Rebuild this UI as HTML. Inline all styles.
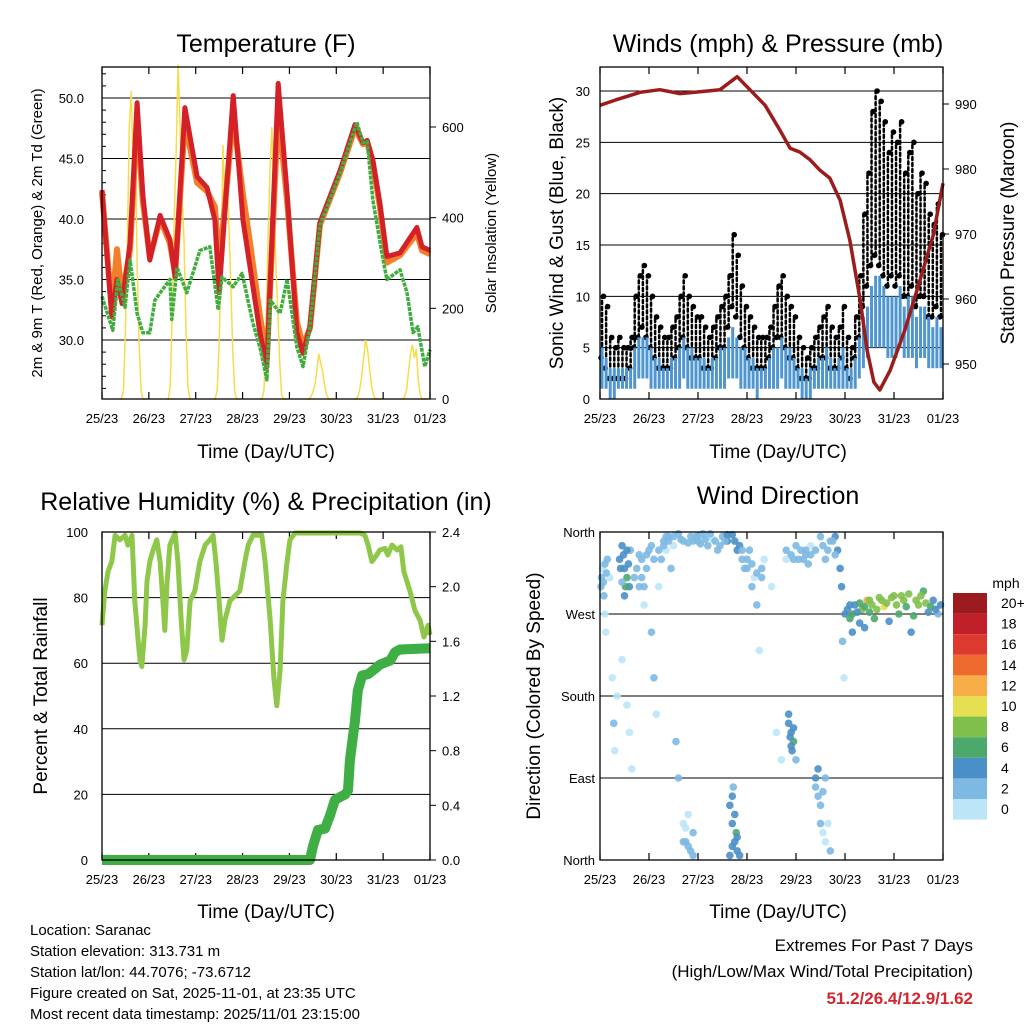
<!DOCTYPE html>
<html><head><meta charset="utf-8"><style>
body{margin:0;background:#fff}
svg{display:block;font-family:"Liberation Sans",Arial,sans-serif}
</style></head><body>
<svg id="c" width="1024" height="1024" viewBox="0 0 1024 1024">
<g id="layer"></g>
<text x="266" y="52" font-size="25" text-anchor="middle">Temperature (F)</text>
<text x="778" y="52" font-size="25" text-anchor="middle">Winds (mph) &amp; Pressure (mb)</text>
<text x="266" y="510" font-size="25" text-anchor="middle">Relative Humidity (%) &amp; Precipitation (in)</text>
<text x="778" y="504" font-size="25" text-anchor="middle">Wind Direction</text>
<text transform="translate(42,233) rotate(-90)" font-size="15" text-anchor="middle">2m &amp; 9m T (Red, Orange) &amp; 2m Td (Green)</text>
<text transform="translate(496,233) rotate(-90)" font-size="15" text-anchor="middle">Solar Insolation (Yellow)</text>
<text transform="translate(563,233) rotate(-90)" font-size="19" text-anchor="middle">Sonic Wind &amp; Gust (Blue, Black)</text>
<text transform="translate(1014,233) rotate(-90)" font-size="19" text-anchor="middle">Station Pressure (Maroon)</text>
<text transform="translate(47,696) rotate(-90)" font-size="19" text-anchor="middle">Percent &amp; Total Rainfall</text>
<text transform="translate(540,696) rotate(-90)" font-size="19" text-anchor="middle">Direction (Colored By Speed)</text>
<text x="266" y="458" font-size="19" text-anchor="middle">Time (Day/UTC)</text>
<text x="778" y="458" font-size="19" text-anchor="middle">Time (Day/UTC)</text>
<text x="266" y="918" font-size="19" text-anchor="middle">Time (Day/UTC)</text>
<text x="778" y="918" font-size="19" text-anchor="middle">Time (Day/UTC)</text>
<g font-size="15">
<text x="30" y="935">Location: Saranac</text>
<text x="30" y="956">Station elevation: 313.731 m</text>
<text x="30" y="977">Station lat/lon: 44.7076; -73.6712</text>
<text x="30" y="998">Figure created on Sat, 2025-11-01, at 23:35 UTC</text>
<text x="30" y="1019">Most recent data timestamp: 2025/11/01 23:15:00</text>
</g>
<g text-anchor="end">
<text x="973" y="951" font-size="17">Extremes For Past 7 Days</text>
<text x="973" y="977" font-size="17">(High/Low/Max Wind/Total Precipitation)</text>
<text x="973" y="1004" font-size="17" font-weight="bold" fill="#d0282e">51.2/26.4/12.9/1.62</text>
</g>
<text x="1006" y="588" font-size="14" text-anchor="middle">mph</text>
</svg>
<script>
const xTickLabels=["25/23","26/23","27/23","28/23","29/23","30/23","31/23","01/23"];
// Temperature (day, degF)
const tRedDays=[0,0.21,0.32,0.43,0.6,0.75,0.87,1.02,1.24,1.45,1.56,1.77,2.03,2.24,2.41,2.5,2.8,3.01,3.16,3.37,3.52,3.76,3.95,4.16,4.29,4.44,4.65,5.08,5.4,5.57,5.66,5.78,5.93,6.08,6.36,6.72,6.83,7.0];
const tRedVals=[42.4,31.9,35,33,38,49.6,42,36.6,40.3,38.3,35.2,49.2,43.5,42.6,39.9,33.9,50.2,39.9,36,30.6,27.8,51.2,42.1,30.6,28.9,31.1,39.7,44,47.8,46.3,46.5,44.9,41.3,36.9,37.2,39.3,37.7,37.4];
const tOrgVals=[42.2,32.5,37.5,33.5,37.5,48.5,41.5,36.8,40,38,35.5,48,43,42.3,41,36,48.5,42,38,32,28.5,49,41.5,31.5,29.5,31,39.5,43.8,47.5,46.2,46.3,44.6,41,36.4,37,38.8,37.4,37.1];
const tdDays=[0,0.23,0.34,0.49,0.6,0.75,0.87,1.02,1.13,1.45,1.49,1.6,1.81,2.09,2.3,2.48,2.56,2.8,2.99,3.22,3.37,3.52,3.59,3.8,3.95,4.16,4.29,4.44,4.65,5.08,5.44,5.57,5.66,5.78,6.0,6.08,6.36,6.51,6.64,6.74,6.89,7.0];
const tdVals=[33.6,30.8,35,32.7,36.6,32.2,30.6,30.6,33.3,35,31.7,36,33.9,37.4,37.7,32.5,35.2,34.4,35.5,31.4,29.4,26.7,33.3,32.2,35,29.4,27.8,31.1,39.5,43.8,48,46.3,46.4,41.6,36.6,35,35.8,33.9,30.6,31.1,27.8,29.2];
// Solar, hourly 11..22 UTC each day
const solarDays=[
[0,20,150,350,600,680,500,650,300,120,20,0],
[0,30,200,400,550,738,600,450,350,150,30,0],
[0,20,120,300,560,420,520,380,250,100,15,0],
[0,20,150,350,500,600,450,300,200,80,10,0],
[0,5,15,30,60,100,80,60,30,10,0,0],
[0,5,20,50,90,130,110,70,30,10,0,0],
[0,5,20,60,100,120,90,110,40,10,0,0]];
// Winds per 2h
const gustHi=[10,9,6,5,6,5,5,6,10,12,13,12, 10,8,7,6,6,7,8,10,12,10,9,8, 8,7,6,7,8,9,10,12,16,14,11,9, 8,7,6,6,6,7,9,11,12,10,9,8, 6,5,4,5,6,7,8,9,7,6,7,9, 6,5,8,12,18,22,28,30,29,27,24,26, 25,27,22,24,25,20,22,21,18,17,19,16];
const gustLo=[4,3,2,2,2,2,2,3,5,6,7,6, 5,4,3,3,3,3,4,5,6,5,4,4, 4,3,3,3,4,5,5,7,9,8,6,5, 4,3,3,3,3,4,5,6,6,5,4,4, 3,2,2,2,3,3,4,4,3,3,3,4, 3,2,4,6,9,11,13,14,13,12,11,12, 11,12,10,10,11,9,10,10,8,8,9,8];
const speedHi=[5,4,3,3,3,3,3,3,5,6,6,6, 5,4,4,3,3,4,4,5,6,5,5,4, 4,4,3,4,4,5,5,6,7,6,5,5, 4,4,3,3,3,4,5,5,6,5,5,4, 3,3,2,3,3,4,4,5,4,3,4,5, 3,3,4,6,8,9,11,12,12,11,10,10, 10,11,9,10,10,8,9,9,8,7,8,7];
const speedLo=[1,1,0,0,1,1,1,1,1,2,2,2, 1,1,1,1,1,1,1,1,2,1,1,1, 1,1,1,1,1,1,1,2,2,2,1,1, 1,1,0,1,1,1,1,1,2,1,1,1, 1,0,0,0,1,1,1,1,1,1,1,1, 1,1,1,2,3,4,5,5,5,5,4,4, 4,5,4,4,4,3,4,4,3,3,3,3];
const presDays=[0,0.31,0.82,1.22,1.63,2.04,2.45,2.80,3.06,3.37,3.67,3.88,4.08,4.29,4.49,4.69,4.90,5.10,5.31,5.45,5.59,5.71,5.92,6.22,6.53,6.80];
const presVals=[989.8,990.6,991.8,992.2,991.6,991.9,992.2,994.2,992.2,989.8,986,983.2,982.6,981.4,979.8,978.6,975.2,969,959.8,952.2,947.2,946,949,955.2,962.9,969.8];
// RH & precip
const rhDays=[0,0.06,0.13,0.21,0.28,0.38,0.49,0.55,0.64,0.70,0.77,0.81,0.85,0.92,0.96,1.02,1.09,1.17,1.24,1.30,1.34,1.39,1.45,1.56,1.62,1.69,1.75,1.81,1.88,1.98,2.09,2.20,2.30,2.37,2.43,2.50,2.56,2.62,2.73,2.94,3.05,3.12,3.22,3.41,3.48,3.59,3.67,3.73,3.80,3.86,3.95,4.01,4.12,5.51,5.61,5.68,5.76,5.85,5.93,6.04,6.10,6.19,6.30,6.38,6.44,6.57,6.68,6.79,6.87,6.96,7.0];
const rhVals=[71.6,82,88,91,99,97.6,99,96,99,79,67,61,59,71.6,85,91,94.5,97.6,91,79,70,85,96,99.7,91,73,61,64,79,82,91,96,97.6,99,91,79,67,73,79,82,91,96,99,99,91,73,55,47,58,79,91,97.6,99.7,99.7,99,96,91,92.7,94.5,95,93,96,94.5,95.5,88,82,76,73,68,71.6,68.6];
const prDays=[0,4.44,4.50,4.61,4.76,4.87,4.97,5.08,5.19,5.25,5.29,5.40,5.46,5.55,5.68,5.83,5.93,6.15,6.25,6.36,7.0];
const prVals=[0,0,0.1,0.22,0.23,0.33,0.44,0.46,0.48,0.51,0.73,1.02,1.24,1.35,1.36,1.40,1.43,1.46,1.52,1.54,1.55];
// Wind direction [day, deg, mph]
const dirPts=[[0.02,300,2],[0.05,320,1],[0.08,290,3],[0.1,270,1],[0.12,250,0],[0.15,330,2],[0.2,310,1],[0.25,200,0],[0.28,150,2],[0.3,120,0],[0.35,180,1],[0.4,330,4],[0.45,345,4],[0.5,320,5],[0.55,310,6],[0.6,300,4],[0.62,340,3],[0.5,290,4],[0.45,220,1],[0.55,170,0],[0.6,140,1],[0.65,100,0],[0.7,310,2],[0.8,300,3],[0.85,330,2],[0.9,280,1],[0.95,320,3],[1.0,340,3],[1.05,250,3],[1.1,200,2],[1.15,160,1],[1.2,300,1],[1.25,330,2],[1.3,350,2],[1.35,340,1],[1.4,355,3],[1.45,320,2],[1.5,345,1],[1.55,130,2],[1.6,90,2],[1.7,40,1],[1.75,20,2],[1.8,50,1],[1.85,10,2],[1.9,30,3],[1.95,355,2],[2.0,350,2],[2.1,358,2],[2.2,345,2],[2.3,352,1],[2.4,340,2],[2.5,355,3],[2.6,350,4],[2.7,357,5],[2.65,60,4],[2.7,40,4],[2.75,20,5],[2.8,10,4],[2.72,80,3],[2.78,30,6],[2.85,345,4],[2.9,330,3],[2.95,320,2],[3.0,330,2],[3.05,340,3],[3.1,300,2],[3.15,310,1],[3.2,280,2],[3.25,230,1],[3.3,320,2],[3.35,330,1],[3.5,300,1],[3.6,140,0],[3.7,110,0],[3.8,330,1],[3.85,160,4],[3.9,140,4],[3.92,120,5],[3.95,130,6],[4.0,110,3],[4.05,330,2],[4.1,340,2],[4.2,335,2],[4.25,325,2],[4.3,345,1],[4.4,80,3],[4.45,100,4],[4.5,60,2],[4.55,30,1],[4.6,90,2],[4.65,40,1],[4.7,10,3],[4.4,340,2],[4.5,355,2],[4.6,330,2],[4.7,350,3],[4.8,355,4],[4.85,340,5],[4.9,320,4],[4.93,300,4],[4.95,240,2],[4.98,200,1],[5.0,270,4],[5.1,265,6],[5.2,280,5],[5.3,260,4],[5.35,275,8],[5.45,285,12],[5.5,272,7],[5.6,265,6],[5.7,288,9],[5.8,278,10],[5.9,262,5],[6.0,290,8],[6.1,270,7],[6.2,285,9],[6.3,292,8],[6.4,268,6],[6.5,280,8],[6.6,295,7],[6.7,272,5],[6.8,285,4],[6.9,270,3],[5.15,250,4],[5.4,255,5],[6.35,250,4],
[0.03,310,3],[0.07,305,2],[0.1,325,3],[0.13,315,2],[0.42,320,5],[0.48,335,4],[0.52,300,6],[0.58,325,5],[0.45,305,3],[0.55,340,5],[0.75,320,2],[0.8,335,3],[0.85,310,3],[0.9,300,2],[0.95,335,3],[1.05,345,3],[1.1,330,2],[1.2,340,2],[1.3,345,2],[1.35,355,3],[1.4,350,2],[1.5,355,2],[1.6,358,2],[1.65,352,2],[1.7,350,3],[1.8,348,2],[1.85,355,2],[1.9,350,2],[2.0,355,2],[2.05,347,2],[2.15,352,2],[2.25,358,2],[2.35,350,2],[2.45,345,2],[2.55,350,3],[2.6,357,4],[2.75,350,4],[2.8,340,4],[2.9,340,3],[3.0,320,2],[3.1,325,2],[3.2,315,2],[3.3,310,2],[3.8,340,2],[3.9,335,2],[3.95,330,2],[4.0,345,2],[4.15,330,2],[4.2,340,2],[4.3,335,2],[4.55,345,2],[4.65,340,2],[4.75,350,2],[4.8,335,3],[1.7,20,2],[1.75,35,1],[1.8,15,3],[1.9,5,2],[2.65,5,4],[2.7,15,4],[2.75,50,4],[2.8,25,4],[2.85,5,4],[2.7,70,4],[3.85,150,4],[3.88,135,5],[3.9,125,4],[3.95,145,4],[4.4,90,4],[4.45,70,3],[4.5,40,2],[4.55,75,2],[4.6,20,1],[5.05,275,4],[5.1,280,5],[5.15,270,6],[5.25,272,5],[5.3,282,6],[5.4,278,7],[5.5,285,8],[5.55,280,9],[5.65,275,8],[5.75,285,9],[5.85,282,8],[5.95,288,9],[6.05,280,8],[6.15,290,9],[6.25,278,7],[6.45,285,8],[6.55,290,9],[6.65,282,8],[6.75,278,6],[6.85,275,5],[6.95,280,4]];
const cbLabels=["20+","18","16","14","12","10","8","6","4","2","0"];
const cbColors=["#9b1b1f","#c0202a","#dc3a2e","#ee6a2d","#f7ae48","#e6df52","#7fc04a","#4da86c","#4a8fc8","#7db9e2","#bde5f8"];

const NS="http://www.w3.org/2000/svg";
const L=document.getElementById('layer');
function mk(tag,attrs,parent){const e=document.createElementNS(NS,tag);for(const k in attrs)e.setAttribute(k,attrs[k]);(parent||L).appendChild(e);return e;}
function lin(d0,d1,r0,r1){return v=>r0+(v-d0)/(d1-d0)*(r1-r0);}
function path(xs,ys,fx,fy){return xs.map((x,i)=>(i?'L':'M')+fx(x).toFixed(1)+','+fy(ys[i]).toFixed(1)).join('');}
function frame(x0,x1,y0,y1,name){
  const g=mk('g',{});
  
  
  const fx=lin(0,7,x0,x1);
  xTickLabels.forEach((t,i)=>{
    const x=fx(i);
    mk('line',{x1:x,x2:x,y1:y1,y2:y1-7,stroke:'#000','stroke-width':1.2},g);
    mk('line',{x1:x,x2:x,y1:y0,y2:y0+7,stroke:'#000','stroke-width':1.2},g);
    const tx=mk('text',{x:x,y:y1+24,'font-size':13,'text-anchor':'middle'},g);
    tx.textContent=t;
    
    
  });
  return g;
}
function grid(g,x0,x1,y){mk('line',{x1:x0,x2:x1,y1:y,y2:y,stroke:'#000','stroke-width':1},g);}
function border(x0,x1,y0,y1){mk('rect',{x:x0,y:y0,width:x1-x0,height:y1-y0,fill:'none',stroke:'#000','stroke-width':1.3});}
function ylab(g,x,y,t,anchor){const e=mk('text',{x:x,y:y+5,'font-size':13,'text-anchor':anchor},g);e.textContent=t;}

// ---- Temperature panel
{const x0=102,x1=430,y0=67,y1=399;
const fx=lin(0,7,x0,x1), fy=lin(30,50,340,98), fs=lin(0,600,399,127);
const g=frame(x0,x1,y0,y1,'temperature');
[30,35,40,45,50].forEach(v=>{grid(g,x0,x1,fy(v));ylab(g,x0-18,fy(v),v.toFixed(1),'end');});
[0,200,400,600].forEach(v=>{mk('line',{x1:x1,x2:x1+6,y1:fs(v),y2:fs(v),stroke:'#000'},g);ylab(g,x1+12,fs(v),String(v),'start');});
for(let v=26;v<=52;v++){mk('line',{x1:x0,x2:x0+4,y1:fy(v),y2:fy(v),stroke:'#000'},g);}
solarDays.forEach((arr,d)=>{
  const xs=arr.map((v,i)=>d+(10+i)/24);
  const p=mk('path',{d:path([d+9/24].concat(xs,[d+23/24]),[0].concat(arr,[0]),fx,fs),fill:'none',stroke:'#f7dc4a','stroke-width':1.5});
  
  
});
let p=mk('path',{d:path(tRedDays,tOrgVals,fx,fy),fill:'none',stroke:'#f47f2a','stroke-width':6,'stroke-linejoin':'round'});

p=mk('path',{d:path(tRedDays,tRedVals,fx,fy),fill:'none',stroke:'#d42027','stroke-width':5,'stroke-linejoin':'round'});

p=mk('path',{d:path(tdDays,tdVals,fx,fy),fill:'none',stroke:'#42ad3f','stroke-width':3.5,'stroke-dasharray':'4 1','stroke-linejoin':'round'});

border(x0,x1,y0,y1);}

// ---- Winds panel
{const x0=600,x1=943,y0=67,y1=399;
const fx=lin(0,7,x0,x1), fy=lin(0,30,399,91), fp=lin(950,990,364,104);
const g=frame(x0,x1,y0,y1,'winds');
[0,5,10,15,20,25,30].forEach(v=>{grid(g,x0,x1,fy(v));ylab(g,x0-10,fy(v),String(v),'end');});
[950,960,970,980,990].forEach(v=>{mk('line',{x1:x1,x2:x1+6,y1:fp(v),y2:fp(v),stroke:'#000'},g);ylab(g,x1+12,fp(v),String(v),'start');});
gustHi.forEach((v,i)=>{const x=fx((i+0.5)/12);
  const l=mk('line',{x1:x,x2:x,y1:fy(gustLo[i]),y2:fy(v),stroke:'#000','stroke-width':2.5,'stroke-dasharray':'3 3','stroke-linecap':'round'});
  
  const c=mk('circle',{cx:x+1.5,cy:fy(v),r:2.8,fill:'#000'});
  
  const c2=mk('circle',{cx:x-1,cy:fy(gustLo[i]),r:2.8,fill:'#000'});
  });
speedHi.forEach((v,i)=>{const x=fx((i+0.5)/12);
  const l=mk('line',{x1:x,x2:x,y1:fy(speedLo[i]),y2:fy(v),stroke:'#4f95d0','stroke-width':3});
  });
const pp=mk('path',{d:path(presDays,presVals,fx,fp)+'L'+x1+','+fp(977.8),fill:'none',stroke:'#9b1c1c','stroke-width':3.5,'stroke-linejoin':'round'});

border(x0,x1,y0,y1);}

// ---- RH panel
{const x0=102,x1=430,y0=532,y1=860;
const fx=lin(0,7,x0,x1), fy=lin(0,100,860,532), fr=lin(0,2.4,860,532);
const g=frame(x0,x1,y0,y1,'humidity');
[0,20,40,60,80,100].forEach(v=>{grid(g,x0,x1,fy(v));ylab(g,x0-14,fy(v),String(v),'end');});
[0,0.4,0.8,1.2,1.6,2.0,2.4].forEach(v=>{mk('line',{x1:x1,x2:x1+6,y1:fr(v),y2:fr(v),stroke:'#000'},g);ylab(g,x1+12,fr(v),v.toFixed(1),'start');});
let p=mk('path',{d:path(rhDays,rhVals,fx,fy),fill:'none',stroke:'#8fc74b','stroke-width':5,'stroke-linejoin':'round'});

p=mk('path',{d:path(prDays,prVals,fx,fr),fill:'none',stroke:'#3fae45','stroke-width':10,'stroke-linejoin':'round'});

border(x0,x1,y0,y1);}

// ---- Wind direction panel
{const x0=600,x1=943,y0=532,y1=860;
const fx=lin(0,7,x0,x1), fy=lin(0,360,860,532);
const g=frame(x0,x1,y0,y1,'direction');
[[0,'North'],[90,'East'],[180,'South'],[270,'West'],[360,'North']].forEach(a=>{grid(g,x0,x1,fy(a[0]));ylab(g,x0-5,fy(a[0]),a[1],'end');});
function col(s){const i=Math.min(10,Math.floor(s/2));return cbColors[10-i];}
dirPts.forEach(pt=>{
  const c=mk('circle',{cx:fx(pt[0]),cy:fy(pt[1]),r:3.8,fill:col(pt[2]),'fill-opacity':0.9});
  });
border(x0,x1,y0,y1);
const cb=mk('g',{});

cbColors.forEach((c,i)=>{const y=593+i*20.6;
  mk('rect',{x:953,y:y,width:34,height:20.6,fill:c},cb);
  const t=mk('text',{x:1001,y:y+15,'font-size':14},cb);t.textContent=cbLabels[i];
  });
}
</script>
</body></html>
